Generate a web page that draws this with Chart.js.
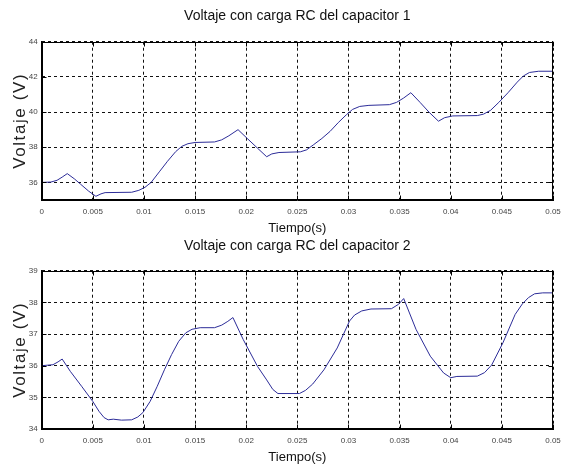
<!DOCTYPE html>
<html>
<head>
<meta charset="utf-8">
<script src="https://cdn.jsdelivr.net/npm/chart.js@4.4.0/dist/chart.umd.min.js"></script>
<style>
  html, body { margin: 0; padding: 0; background: #fff; }
  #wrap { position: relative; width: 561px; height: 467px; overflow: hidden; }
  .panel { position: absolute; left: 0; width: 561px; height: 238px; }
  #p1 { top: 0; }
  #p2 { top: 229px; }
</style>
</head>
<body>
<div id="wrap">
  <div class="panel" id="p1"><canvas id="c1"></canvas></div>
  <div class="panel" id="p2"><canvas id="c2"></canvas></div>
</div>
<script>
const FONT = "'Liberation Sans', Arial, sans-serif";

// Shared axis text and ticks
const xTickValues = [0, 0.005, 0.01, 0.015, 0.02, 0.025, 0.03, 0.035, 0.04, 0.045, 0.05];
const xTickLabels = ['0', '0.005', '0.01', '0.015', '0.02', '0.025', '0.03', '0.035', '0.04', '0.045', '0.05'];
const xAxisTitle = 'Tiempo(s)';
const yAxisTitle = 'Voltaje (V)';

// Capacitor 1
const title1 = 'Voltaje con carga RC del capacitor 1';
const yRange1 = [35, 44];
const yTicks1 = [36, 38, 40, 42, 44];
const tiempo1 = [0, 0.0009, 0.0015, 0.0020, 0.0025, 0.0032, 0.0038, 0.0046, 0.0053, 0.0058,
                 0.0062, 0.0088, 0.0095, 0.0101, 0.0107, 0.0115, 0.0123, 0.0131, 0.0137, 0.0143,
                 0.0150, 0.0169, 0.0176, 0.0183, 0.0192, 0.0201, 0.0211, 0.0220, 0.0225, 0.0232,
                 0.0253, 0.0259, 0.0266, 0.0274, 0.0282, 0.0290, 0.0298, 0.0304, 0.0311, 0.0320,
                 0.0340, 0.0347, 0.0354, 0.0361, 0.0370, 0.0379, 0.0388, 0.0394, 0.0402, 0.0426,
                 0.0432, 0.0439, 0.0447, 0.0456, 0.0465, 0.0471, 0.0477, 0.0486, 0.0500];
const voltaje1 = [36.0, 36.02, 36.12, 36.3, 36.5, 36.2, 35.9, 35.5, 35.21, 35.35,
                  35.42, 35.44, 35.55, 35.72, 36.0, 36.6, 37.2, 37.75, 38.05, 38.2,
                  38.27, 38.3, 38.42, 38.65, 39.0, 38.5, 37.95, 37.46, 37.62, 37.7,
                  37.74, 37.85, 38.15, 38.5, 38.9, 39.4, 39.85, 40.15, 40.32, 40.38,
                  40.42, 40.55, 40.8, 41.1, 40.55, 39.98, 39.48, 39.68, 39.78, 39.8,
                  39.88, 40.1, 40.55, 41.1, 41.7, 42.05, 42.25, 42.32, 42.32];

// Capacitor 2
const title2 = 'Voltaje con carga RC del capacitor 2';
const yRange2 = [34, 39];
const yTicks2 = [34, 35, 36, 37, 38, 39];
const tiempo2 = [0, 0.0011, 0.0016, 0.0020, 0.0028, 0.0039, 0.0050, 0.0056, 0.0061, 0.0065,
                 0.0070, 0.0078, 0.0088, 0.0094, 0.0099, 0.0106, 0.0113, 0.0120, 0.0127, 0.0134,
                 0.0141, 0.0147, 0.0155, 0.0169, 0.0176, 0.0182, 0.0187, 0.0197, 0.0211, 0.0220,
                 0.0226, 0.0231, 0.0252, 0.0258, 0.0265, 0.0276, 0.0289, 0.0301, 0.0306, 0.0313,
                 0.0322, 0.0342, 0.0349, 0.0354, 0.0366, 0.0380, 0.0393, 0.0400, 0.0406, 0.0426,
                 0.0433, 0.0440, 0.0451, 0.0463, 0.0470, 0.0476, 0.0482, 0.0490, 0.0500];
const voltaje2 = [36.0, 36.03, 36.12, 36.21, 35.82, 35.35, 34.87, 34.56, 34.36, 34.29,
                  34.31, 34.28, 34.29, 34.38, 34.52, 34.87, 35.35, 35.87, 36.35, 36.77,
                  37.04, 37.15, 37.2, 37.2, 37.28, 37.4, 37.52, 36.83, 35.98, 35.55,
                  35.25, 35.12, 35.12, 35.22, 35.42, 35.87, 36.56, 37.41, 37.6, 37.73,
                  37.79, 37.8, 37.94, 38.12, 37.15, 36.3, 35.77, 35.62, 35.66, 35.67,
                  35.78, 36.02, 36.72, 37.62, 37.95, 38.15, 38.27, 38.3, 38.3];

const LINE_COLOR = '#2c2c98';

// Solid box around the plot area with short inward tick marks (drawn from the scales)
const framePlugin = {
  id: 'frame',
  afterDatasetsDraw(chart) {
    const { ctx, chartArea: a, scales } = chart;
    ctx.save();
    ctx.strokeStyle = '#000';
    ctx.lineWidth = 1;
    ctx.setLineDash([]);
    const L = Math.round(a.left) + 0.5, R = Math.round(a.right) - 0.5;
    const T = Math.round(a.top) + 0.5, B = Math.round(a.bottom) - 0.5;
    ctx.strokeRect(L, T, R - L, B - T);
    ctx.beginPath();
    scales.x.ticks.forEach(t => {
      const px = Math.round(scales.x.getPixelForValue(t.value)) + 0.5;
      ctx.moveTo(px, B); ctx.lineTo(px, B - 4);
      ctx.moveTo(px, T); ctx.lineTo(px, T + 4);
    });
    scales.y.ticks.forEach(t => {
      const py = Math.round(scales.y.getPixelForValue(t.value)) + 0.5;
      ctx.moveTo(L, py); ctx.lineTo(L + 4, py);
      ctx.moveTo(R, py); ctx.lineTo(R - 4, py);
    });
    ctx.stroke();
    ctx.restore();
  }
};

// Rotated, letter-spaced y-axis title centred on the plot area
const yTitlePlugin = {
  id: 'yTitle',
  afterDraw(chart, args, opts) {
    const { ctx, chartArea: a } = chart;
    ctx.save();
    ctx.translate(opts.x, (a.top + a.bottom) / 2);
    ctx.rotate(-Math.PI / 2);
    ctx.font = opts.size + 'px ' + FONT;
    if ('letterSpacing' in ctx) ctx.letterSpacing = opts.spacing + 'px';
    ctx.fillStyle = '#222';
    ctx.textAlign = 'center';
    ctx.textBaseline = 'middle';
    ctx.fillText(opts.text, 0, 0);
    ctx.restore();
  }
};

function makeChart(canvasId, title, titlePadTop, tiempo, voltaje, yRange, yTicks) {
  const points = tiempo.map((t, i) => ({ x: t, y: voltaje[i] }));
  return new Chart(document.getElementById(canvasId), {
    type: 'line',
    data: {
      datasets: [{
        data: points,
        borderColor: LINE_COLOR,
        borderWidth: 1,
        pointRadius: 0,
        fill: false,
        tension: 0
      }]
    },
    options: {
      responsive: true,
      maintainAspectRatio: false,
      animation: false,
      events: [],
      layout: { padding: { left: 0, right: 1, top: 0, bottom: 0 } },
      plugins: {
        legend: { display: false },
        tooltip: { enabled: false },
        title: {
          display: true,
          fullSize: false,
          text: title,
          color: '#111',
          font: { family: FONT, size: 14, weight: 'normal' },
          padding: { top: titlePadTop, bottom: 41.7 - 16.8 - titlePadTop }
        },
        yTitle: { text: yAxisTitle, x: 20, size: 17, spacing: 1.6 }
      },
      scales: {
        x: {
          type: 'linear',
          min: 0,
          max: 0.05,
          afterBuildTicks(scale) { scale.ticks = xTickValues.map(v => ({ value: v })); },
          afterFit(scale) {
            scale.height = 38;
            scale.paddingLeft = 0;
            scale.paddingRight = 8;
          },
          ticks: {
            autoSkip: false,
            maxRotation: 0,
            padding: 7,
            color: '#444',
            font: { family: FONT, size: 8 },
            callback: (v, i) => xTickLabels[i]
          },
          grid: { color: '#111', lineWidth: 1, drawTicks: false },
          border: { display: true, color: '#000', dash: [3, 3] },
          title: {
            display: true,
            text: xAxisTitle,
            color: '#111',
            font: { family: FONT, size: 13 },
            padding: { top: 0, bottom: 2 }
          }
        },
        y: {
          min: yRange[0],
          max: yRange[1],
          afterBuildTicks(scale) { scale.ticks = yTicks.map(v => ({ value: v })); },
          afterFit(scale) { scale.width = 41.7; },
          ticks: {
            padding: 4,
            color: '#444',
            font: { family: FONT, size: 8 },
            callback: v => String(v)
          },
          grid: { color: '#111', lineWidth: 1, drawTicks: false },
          border: { display: true, color: '#000', dash: [3, 3] }
        }
      }
    },
    plugins: [framePlugin, yTitlePlugin]
  });
}

makeChart('c1', title1, 7.5, tiempo1, voltaje1, yRange1, yTicks1);
makeChart('c2', title2, 8.5, tiempo2, voltaje2, yRange2, yTicks2);
</script>
</body>
</html>
